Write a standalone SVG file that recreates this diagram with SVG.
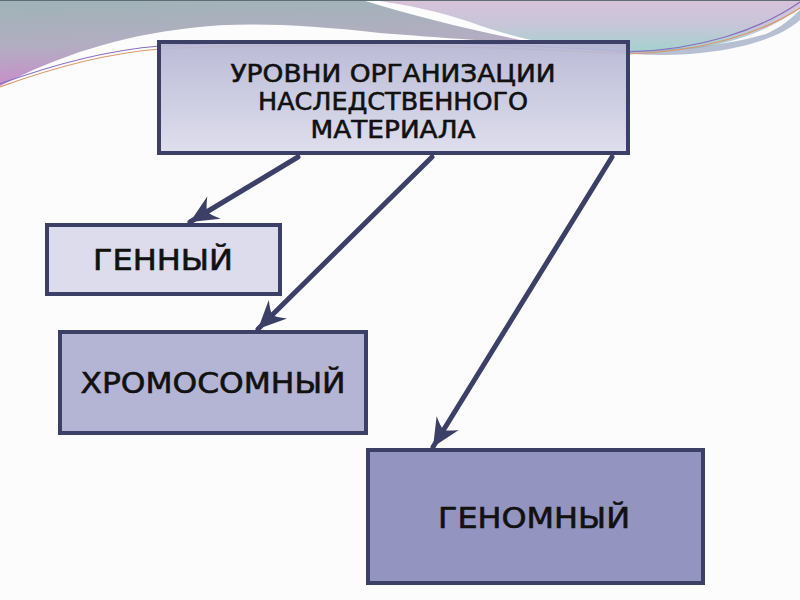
<svg xmlns="http://www.w3.org/2000/svg" width="800" height="600" viewBox="0 0 800 600">
  <defs>
    <linearGradient id="gLeft" x1="0" y1="0" x2="0.15" y2="1">
      <stop offset="0" stop-color="#9fb4b7"/>
      <stop offset="0.55" stop-color="#b3adc2"/>
      <stop offset="1" stop-color="#c98ccb"/>
    </linearGradient>
    <linearGradient id="gRight" x1="0" y1="0" x2="0" y2="1">
      <stop offset="0" stop-color="#d8c2da"/>
      <stop offset="0.5" stop-color="#c6c6d8"/>
      <stop offset="1" stop-color="#a4d2cf"/>
    </linearGradient>
    <linearGradient id="gTop" x1="0" y1="0" x2="0" y2="1">
      <stop offset="0" stop-color="#b5b5d3"/>
      <stop offset="1" stop-color="#dcdcec"/>
    </linearGradient>
    <marker id="arr" viewBox="-30 -14 32 28" refX="0" refY="0" markerWidth="32" markerHeight="28" markerUnits="userSpaceOnUse" orient="auto">
      <path d="M0,0 L-28,-13 Q-21,-4 -20,0 Q-21,4 -28,13 Z" fill="#3c3f66"/>
    </marker>
    <style>
      .box { stroke: #3c3f66; stroke-width: 4; }
      .lbl { font-family: "DejaVu Sans", "Liberation Sans", sans-serif; font-size: 28px; fill: #111; stroke: #111; stroke-width: 0.6; text-anchor: middle; }
      .hdr { font-size: 25px; }
      .conn { stroke: #3c3f66; stroke-width: 5; fill: none; stroke-linecap: round; }
    </style>
  </defs>

  <rect width="800" height="600" fill="#fcfcfd"/>

  <g id="decor">
    <path d="M0,0 H362 C420,18 480,32 540,44 C470,40 420,36 380,33 C300,24 240,22 190,28 C120,36 60,55 0,86 Z" fill="url(#gLeft)"/>
    <path d="M372,0 H800 V8 C770,30 730,46 680,50 C650,52 630,52 600,50 C560,47 520,40 470,22 C440,12 410,5 372,0 Z" fill="url(#gRight)"/>
    <path d="M600,50 C650,52 720,48 766,34 C780,28 792,18 800,10 V20 C780,38 740,50 690,54 C660,56 630,55 600,50 Z" fill="#9aa6bf" opacity="0.7"/>
    <path d="M0,0 H800" stroke="#5f6e72" stroke-width="2"/>
    <path d="M0,84 C60,62 110,50 160,46 C300,38 500,42 628,52 C700,50 760,30 800,2" stroke="#8a6cc0" stroke-width="1.2" fill="none"/>
    <path d="M0,87 C60,65 110,53 160,49 C300,42 500,46 628,54 C700,52 760,34 800,8" stroke="#d89a6a" stroke-width="1.2" fill="none"/>
  </g>

  <g id="connectors">
    <line class="conn" x1="298" y1="157" x2="190" y2="222" marker-end="url(#arr)"/>
    <line class="conn" x1="432" y1="157" x2="258" y2="329" marker-end="url(#arr)"/>
    <line class="conn" x1="612" y1="157" x2="433" y2="447" marker-end="url(#arr)"/>
  </g>

  <g id="root">
    <rect class="box" x="159" y="42" width="469" height="111" fill="url(#gTop)" fill-opacity="0.92"/>
    <text class="lbl hdr" x="393" y="82" textLength="325" lengthAdjust="spacingAndGlyphs">УРОВНИ ОРГАНИЗАЦИИ</text>
    <text class="lbl hdr" x="393" y="110" textLength="270" lengthAdjust="spacingAndGlyphs">НАСЛЕДСТВЕННОГО</text>
    <text class="lbl hdr" x="393" y="138" textLength="165" lengthAdjust="spacingAndGlyphs">МАТЕРИАЛА</text>
  </g>

  <g id="genny">
    <rect class="box" x="47" y="225" width="233" height="69" fill="#dcdcec"/>
    <text class="lbl" x="163" y="270" textLength="140" lengthAdjust="spacingAndGlyphs">ГЕННЫЙ</text>
  </g>

  <g id="chromosomny">
    <rect class="box" x="60" y="332" width="306" height="101" fill="#b4b4d4"/>
    <text class="lbl" x="213" y="393" textLength="265" lengthAdjust="spacingAndGlyphs">ХРОМОСОМНЫЙ</text>
  </g>

  <g id="genomny">
    <rect class="box" x="368" y="450" width="335" height="133" fill="#9394c0"/>
    <text class="lbl" x="534" y="528" textLength="192" lengthAdjust="spacingAndGlyphs">ГЕНОМНЫЙ</text>
  </g>
</svg>
